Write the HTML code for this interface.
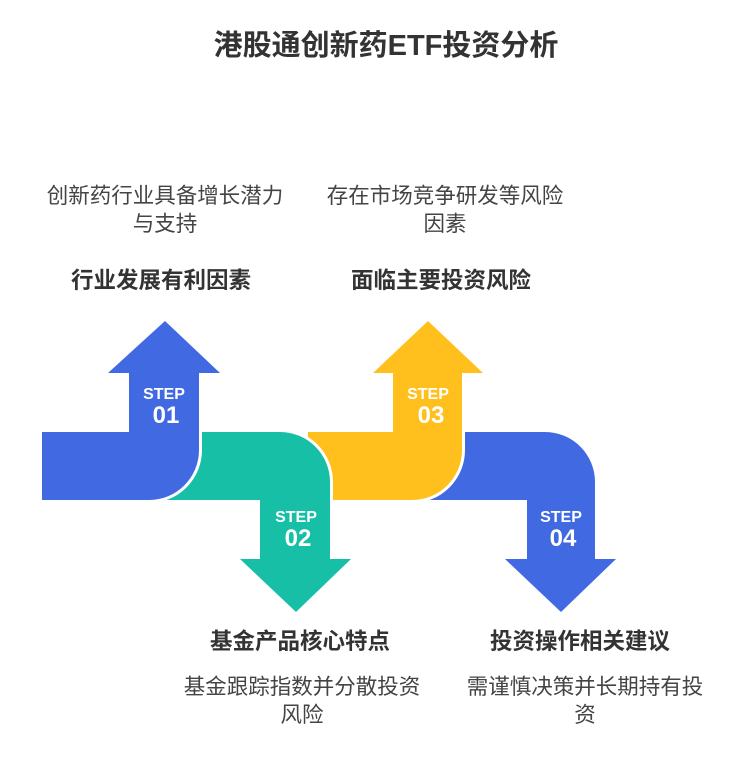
<!DOCTYPE html>
<html><head><meta charset="utf-8"><style>
body{margin:0;width:748px;height:752px;background:#fff;overflow:hidden}
svg text{font-family:"Liberation Sans","Noto Sans CJK SC",sans-serif}
</style></head><body>
<svg width="748" height="752" viewBox="0 0 748 752" xmlns="http://www.w3.org/2000/svg">
<text x="386" y="55" text-anchor="middle" font-size="29" font-weight="bold" fill="#333">港股通创新药ETF投资分析</text>

<text x="165" y="203" text-anchor="middle" font-size="21.5" fill="#444">创新药行业具备增长潜力</text>
<text x="165" y="231" text-anchor="middle" font-size="21.5" fill="#444">与支持</text>
<text x="161" y="288" text-anchor="middle" font-size="22.5" font-weight="bold" fill="#333">行业发展有利因素</text>

<text x="445" y="203" text-anchor="middle" font-size="21.5" fill="#444">存在市场竞争研发等风险</text>
<text x="445" y="231" text-anchor="middle" font-size="21.5" fill="#444">因素</text>
<text x="441" y="288" text-anchor="middle" font-size="22.5" font-weight="bold" fill="#333">面临主要投资风险</text>

<text x="300" y="649" text-anchor="middle" font-size="22.5" font-weight="bold" fill="#333">基金产品核心特点</text>
<text x="302" y="694" text-anchor="middle" font-size="21.5" fill="#444">基金跟踪指数并分散投资</text>
<text x="302" y="722" text-anchor="middle" font-size="21.5" fill="#444">风险</text>

<text x="580" y="649" text-anchor="middle" font-size="22.5" font-weight="bold" fill="#333">投资操作相关建议</text>
<text x="585" y="694" text-anchor="middle" font-size="21.5" fill="#444">需谨慎决策并长期持有投</text>
<text x="585" y="722" text-anchor="middle" font-size="21.5" fill="#444">资</text>

<path d="M420 432 H545 A50 50 0 0 1 595 482 V559 H616 L561 612 L505 559 H527 V500 H420 Z" fill="#4169E1"/>
<path d="M308 432 H393 V373 H373 L428 321 L483 373 H462 V450 A50 50 0 0 1 412 500 H308 Z" fill="#FFC01E" stroke="#fff" stroke-width="6" paint-order="stroke"/>
<path d="M160 432 H280 A50 50 0 0 1 330 482 V559 H351 L296 612 L240 559 H260 V500 H160 Z" fill="#17BFA6" stroke="#fff" stroke-width="6" paint-order="stroke"/>
<path d="M42 432 H129 V373 H108 L165 321 L220 373 H199 V450 A50 50 0 0 1 149 500 H42 Z" fill="#4169E1" stroke="#fff" stroke-width="6" paint-order="stroke"/>
<rect x="36" y="425" width="6" height="80" fill="#fff"/>

<g fill="#fff" font-weight="bold" text-anchor="middle">
<text x="164" y="399" font-size="16">STEP</text><text x="166" y="423" font-size="24">01</text>
<text x="296" y="522" font-size="16">STEP</text><text x="298" y="546" font-size="24">02</text>
<text x="428" y="399" font-size="16">STEP</text><text x="431" y="423" font-size="24">03</text>
<text x="561" y="522" font-size="16">STEP</text><text x="563" y="546" font-size="24">04</text>
</g>
</svg>
</body></html>
